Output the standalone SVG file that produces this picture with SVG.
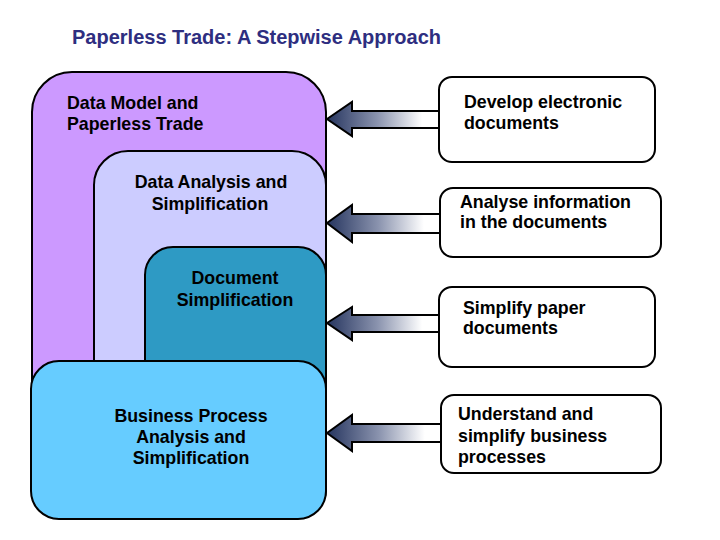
<svg xmlns="http://www.w3.org/2000/svg" width="720" height="540" viewBox="0 0 720 540">
  <defs>
    <linearGradient id="arrowGrad" x1="0" y1="0" x2="1" y2="0">
      <stop offset="0" stop-color="#26355F"/>
      <stop offset="0.45" stop-color="#8A93AE"/>
      <stop offset="0.85" stop-color="#FFFFFF"/>
      <stop offset="1" stop-color="#FFFFFF"/>
    </linearGradient>
    <style>
      .stage { stroke: #000; stroke-width: 2; }
      .note { fill: #fff; stroke: #000; stroke-width: 2; }
      .arrow { fill: url(#arrowGrad); stroke: #000; stroke-width: 2; stroke-linejoin: miter; }
      text { font-family: "Liberation Sans", Arial, sans-serif; font-weight: bold; font-size: 17.8px; fill: #000; }
      .title { font-size: 20px; fill: #2E2E80; }
      .mid { text-anchor: middle; }
    </style>
  </defs>
  <rect width="720" height="540" fill="#fff"/>

  <text class="title" x="72" y="44">Paperless Trade: A Stepwise Approach</text>

  <g id="data-model">
    <rect class="stage" x="32" y="72" width="294" height="446" rx="40" ry="40" fill="#CC99FF"/>
    <text x="67" y="109">Data Model and</text>
    <text x="67" y="130">Paperless Trade</text>
  </g>

  <g id="data-analysis">
    <rect class="stage" x="94" y="151" width="232" height="366" rx="34" ry="34" fill="#CCCCFF"/>
    <text class="mid" x="211" y="188">Data Analysis and</text>
    <text class="mid" x="210" y="210">Simplification</text>
  </g>

  <g id="document-simplification">
    <rect class="stage" x="145" y="247" width="181" height="270" rx="28" ry="28" fill="#2E9AC4"/>
    <text class="mid" x="235" y="284">Document</text>
    <text class="mid" x="235" y="306">Simplification</text>
  </g>

  <g id="business-process">
    <rect class="stage" x="31" y="361" width="295" height="158" rx="28" ry="28" fill="#66CCFF"/>
    <text class="mid" x="191" y="422">Business Process</text>
    <text class="mid" x="191" y="443">Analysis and</text>
    <text class="mid" x="191" y="464">Simplification</text>
  </g>

  <g id="connectors">
    <polygon class="arrow" points="327,119 352,102 352,111 439,111 439,128 352,128 352,136"/>
    <polygon class="arrow" points="327,223 352,205 352,214 441,214 441,233 352,233 352,242"/>
    <polygon class="arrow" points="327,323 352,307 352,315 439,315 439,332 352,332 352,340"/>
    <polygon class="arrow" points="327,433 352,415 352,424 442,424 442,442 352,442 352,451"/>
  </g>

  <g id="develop-electronic">
    <rect class="note" x="439" y="77" width="216" height="85" rx="13" ry="13"/>
    <text x="464" y="108">Develop electronic</text>
    <text x="464" y="129">documents</text>
  </g>

  <g id="analyse-information">
    <rect class="note" x="440" y="188" width="221" height="69" rx="13" ry="13"/>
    <text x="460" y="208">Analyse information</text>
    <text x="460" y="228">in the documents</text>
  </g>

  <g id="simplify-paper">
    <rect class="note" x="439" y="287" width="216" height="80" rx="13" ry="13"/>
    <text x="463" y="314">Simplify paper</text>
    <text x="463" y="334">documents</text>
  </g>

  <g id="understand-business">
    <rect class="note" x="441" y="395" width="220" height="78" rx="13" ry="13"/>
    <text x="458" y="420">Understand and</text>
    <text x="458" y="442">simplify business</text>
    <text x="458" y="463">processes</text>
  </g>
</svg>
